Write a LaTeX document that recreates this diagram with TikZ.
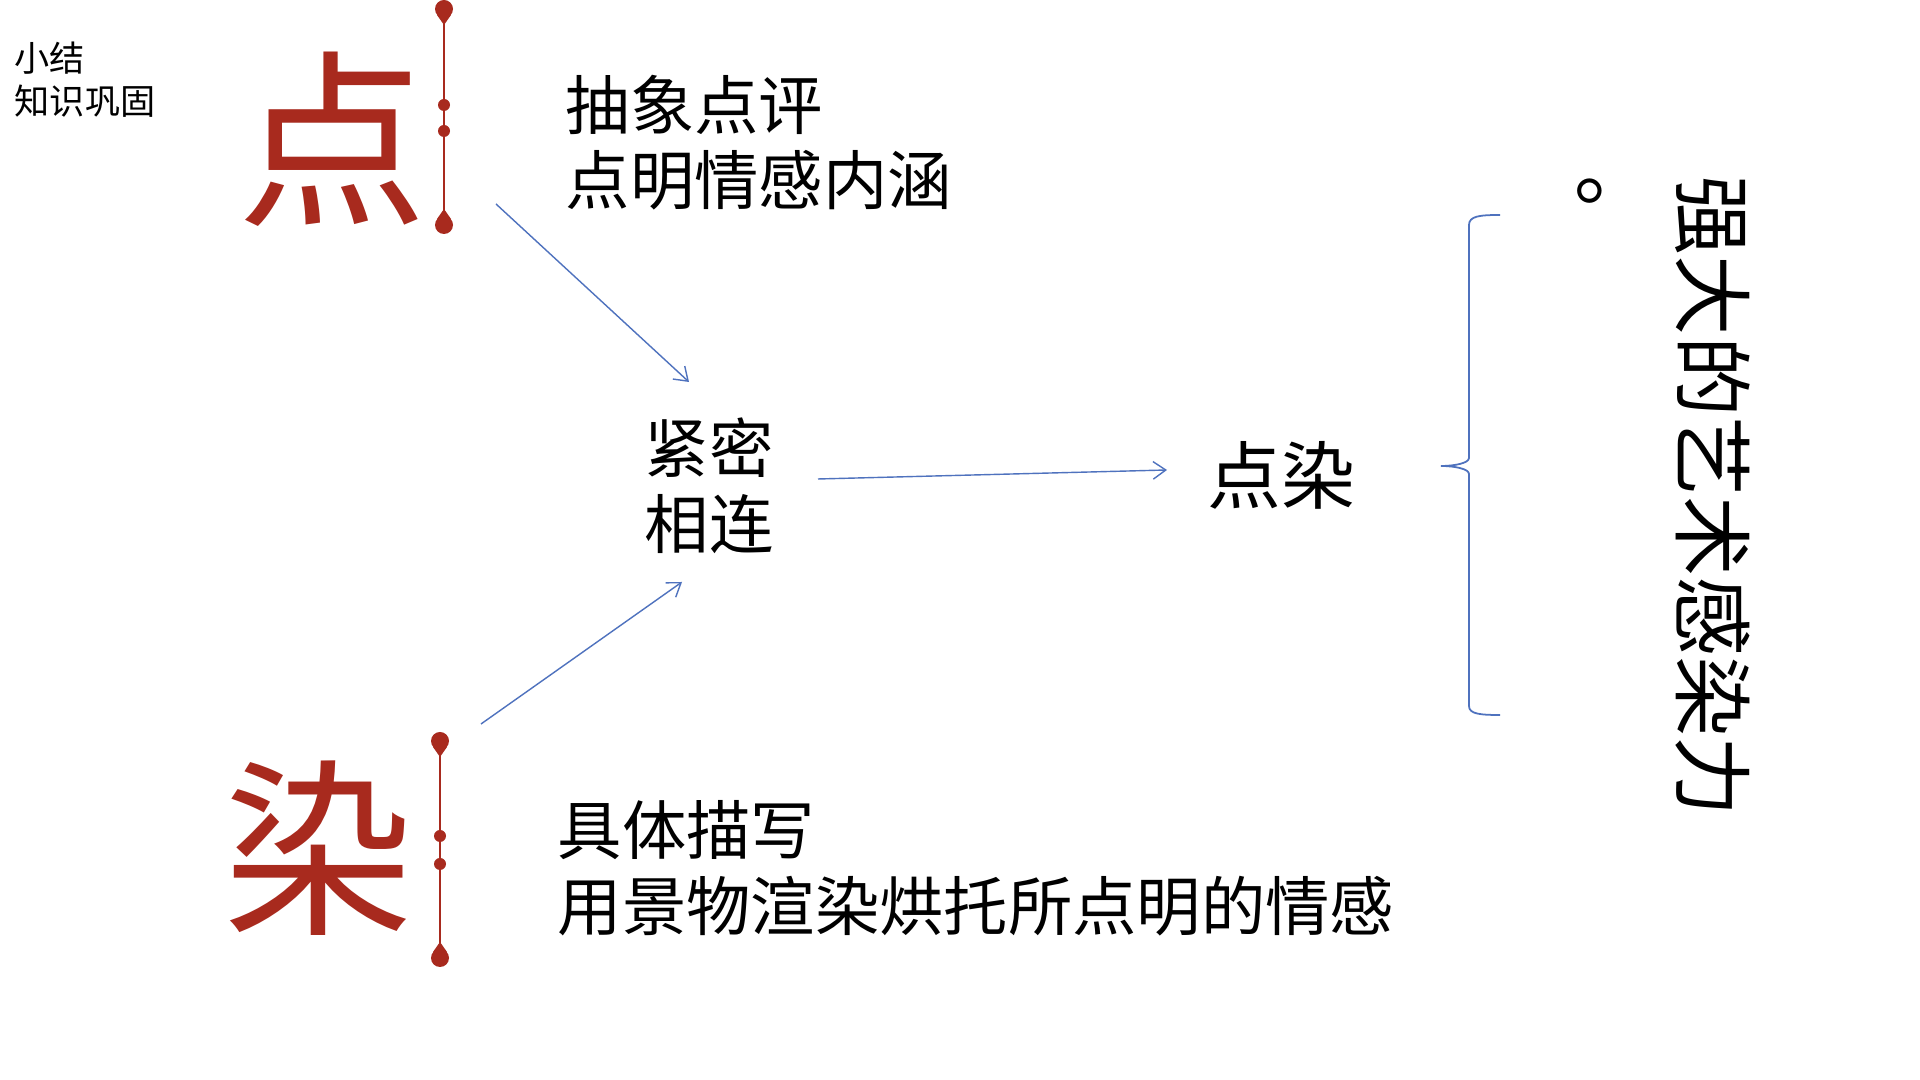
\documentclass[tikz,border=0pt]{standalone}
\usepackage{fontspec}
\usepackage{tikz}
\usetikzlibrary{arrows.meta}
\newfontfamily\cjk{Noto Sans CJK SC}
\definecolor{dianRed}{RGB}{168,42,30}
\definecolor{linkBlue}{RGB}{79,114,190}

\begin{document}
\begin{tikzpicture}[x=0.01cm, y=-0.01cm,
  bigchar/.style={text=dianRed, font=\cjk\fontsize{54}{60}\selectfont, inner sep=0pt},
  body/.style={font=\cjk\fontsize{18.3}{21.6}\selectfont, align=left, inner sep=0pt, anchor=north west},
  link/.style={linkBlue, line width=0.4pt, -{Straight Barb[length=3.6pt,width=5pt]}},
  redline/.style={dianRed, line width=0.6pt}]
\useasboundingbox[fill=white] (0,0) rectangle (1920,1080);

% heading
\node[body, font=\cjk\fontsize{10}{12.3}\selectfont] (title) at (14,41) {小结\\知识巩固};

% the two key words
\node[bigchar] (dian) at (332,139) {点};
\node[bigchar] (ran) at (318,848) {染};
\foreach \x/\t/\b in {444/9/225, 440/741/958}
{
\draw[redline] (\x,\t) -- (\x,\b);
\fill[dianRed] (\x,\t) circle[radius=9];
\fill[dianRed] (\x-7,\t+6) -- (\x,\t+16) -- (\x+7,\t+6) -- cycle;
\fill[dianRed] (\x,\b) circle[radius=9];
\fill[dianRed] (\x-7,\b-6) -- (\x,\b-16) -- (\x+7,\b-6) -- cycle;
}
\foreach \x/\y in {444/105, 444/131, 440/836, 440/864}
{
\fill[dianRed] (\x,\y) circle[radius=6];
}

\node[body] (dianText) at (565,74) {抽象点评\\点明情感内涵};
\node[body] (ranText) at (557,800) {具体描写\\用景物渲染烘托所点明的情感};
\node[body] (lianjie) at (644,417) {紧密\\相连};
\node[body, font=\cjk\fontsize{21}{25}\selectfont] (dianran) at (1207,441) {点染};

% arrows
\coordinate (dianOut) at (496,204);
\coordinate (lianIn) at (689,382);
\coordinate (ranOut) at (481,724);
\coordinate (lianInLow) at (682,582);
\coordinate (lianOut) at (818,479);
\coordinate (dianranIn) at (1167,470);
\draw[link] (dianOut) -- (lianIn);
\draw[link] (ranOut) -- (lianInLow);
\draw[link] (lianOut) -- (dianranIn);

% brace and conclusion
\draw[linkBlue, line width=0.5pt] (1500,215) .. controls (1480,215) and (1469,216) .. (1469,225)
  -- (1469,458) .. controls (1469,463) and (1455,466) .. (1441,466)
  .. controls (1455,466) and (1469,469) .. (1469,474)
  -- (1469,706) .. controls (1469,714) and (1480,715) .. (1500,715);
\node[rotate=-90, anchor=north west, inner sep=0pt, align=left,
  font=\cjk\fontsize{22.8}{28.5}\selectfont] (effect) at (1751,175) {强大的艺术感染力\\。};
\end{tikzpicture}
\end{document}
